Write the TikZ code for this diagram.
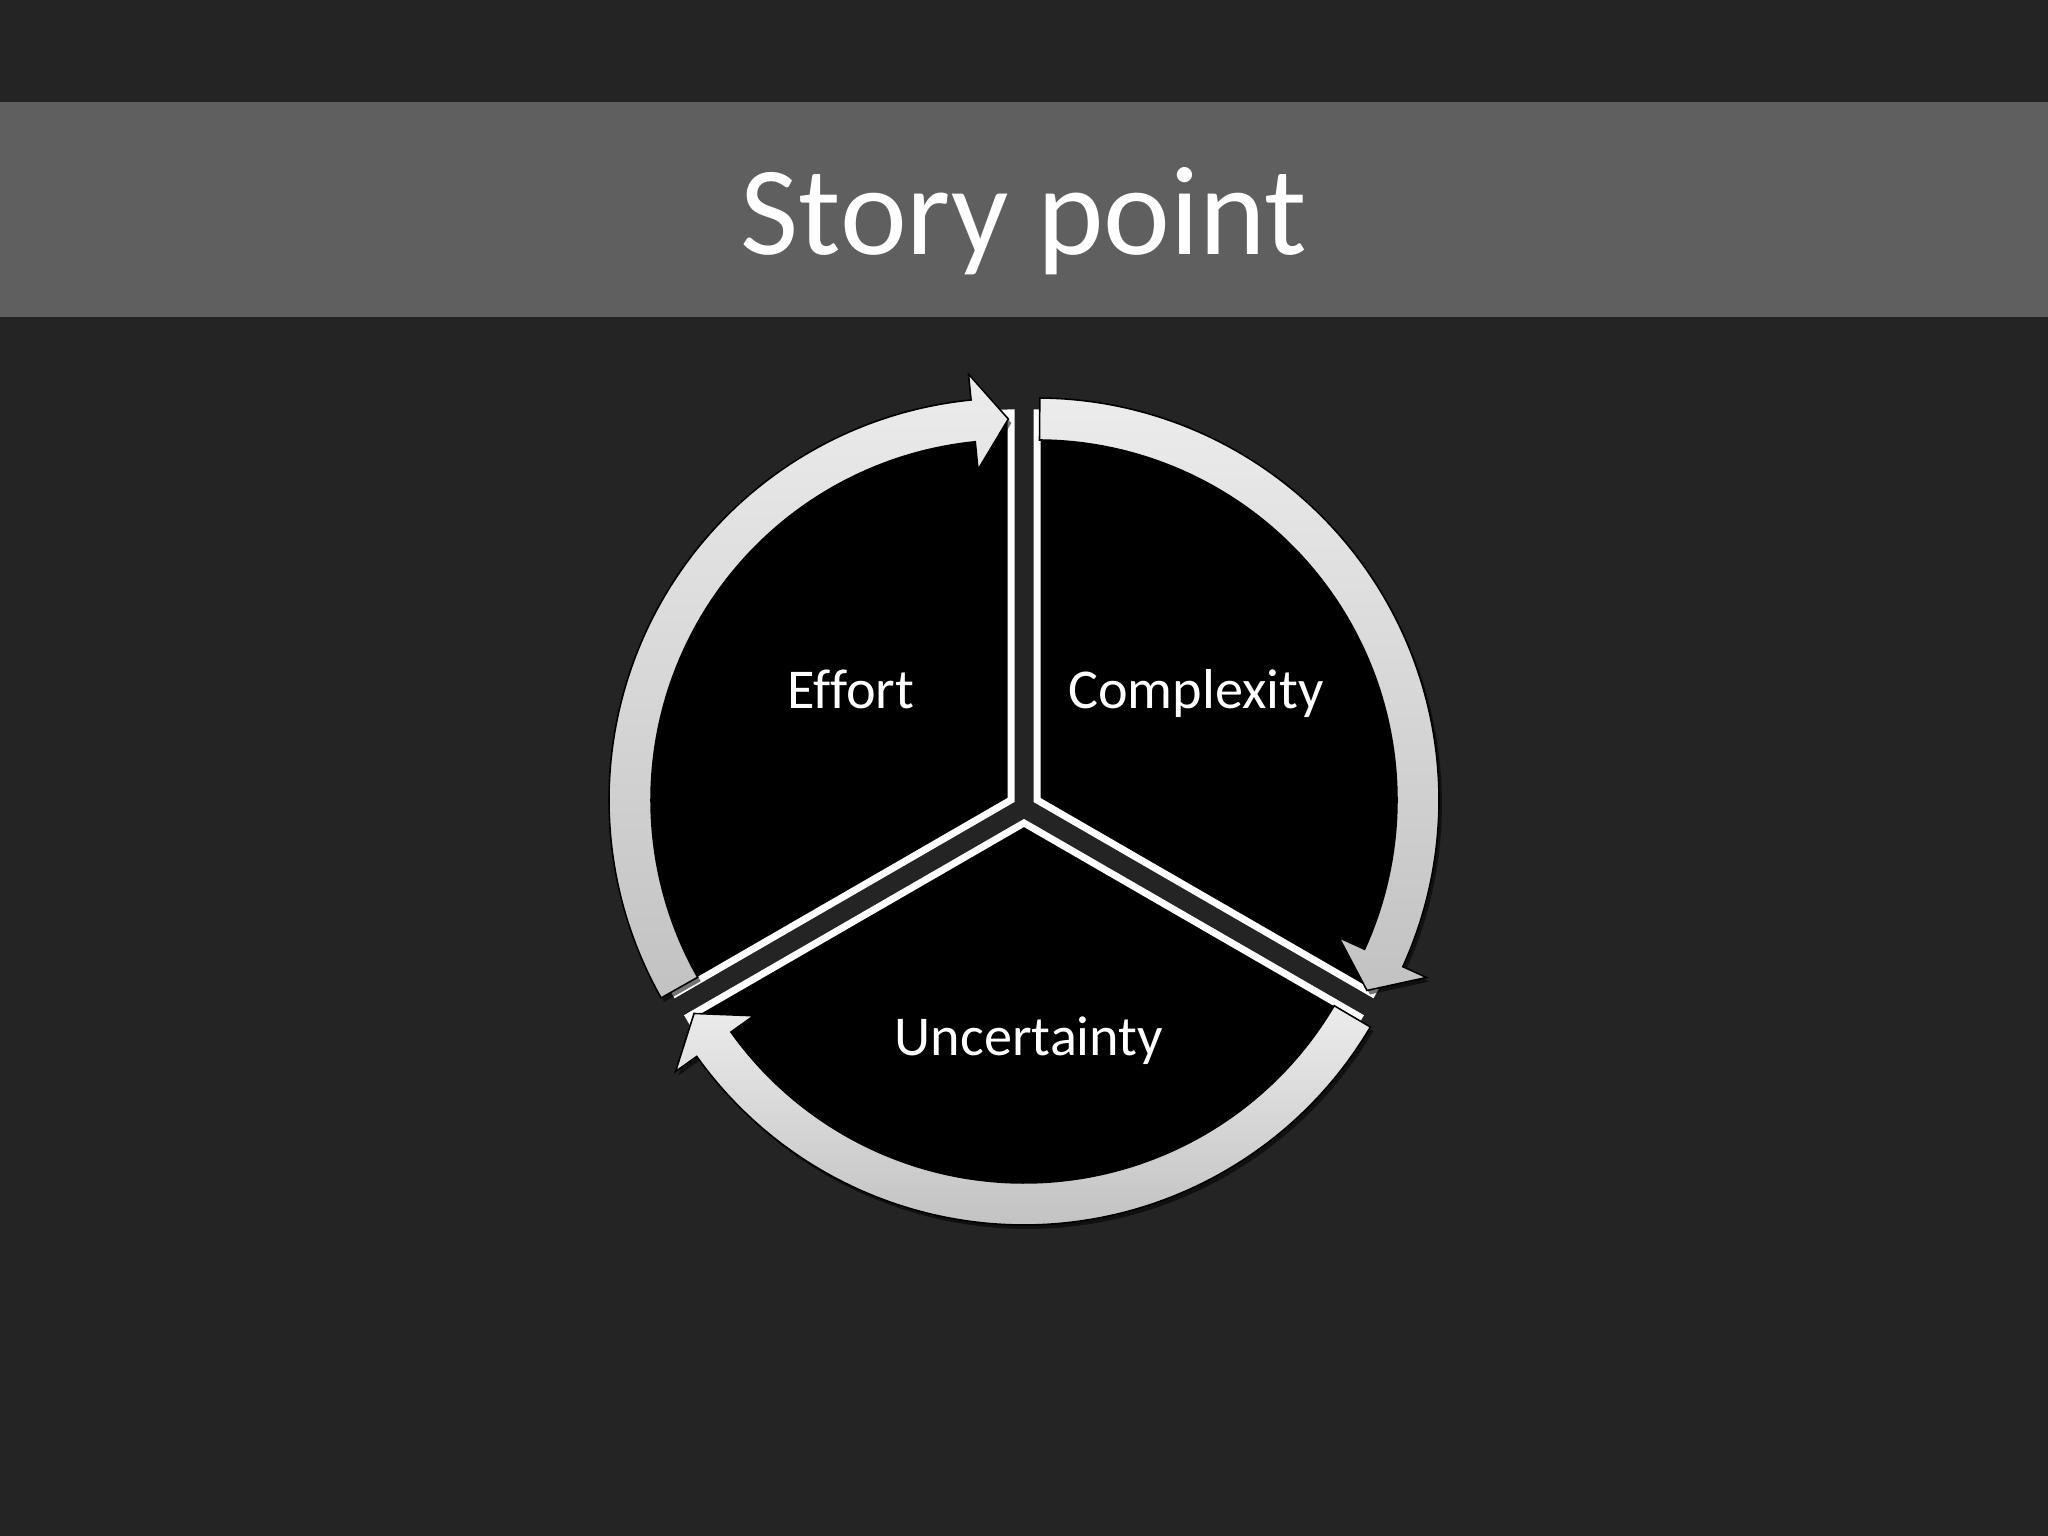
\documentclass[tikz,border=0pt]{standalone}
\usepackage{fontspec}
\setmainfont[Ligatures=NoCommon]{Carlito}
\usetikzlibrary{calc,shadows}
\definecolor{bg}{HTML}{242424}
\definecolor{band}{HTML}{5F5F5F}
\definecolor{ringtop}{HTML}{ECECEC}
\definecolor{ringbot}{HTML}{C2C2C2}
\tikzset{
  sectorshape/.style={fill=black, draw=white, line width=0.07cm, line join=miter},
  ringshape/.style={top color=ringtop, bottom color=ringbot, draw=black, line width=0.45pt,
    drop shadow={shadow xshift=0.03cm, shadow yshift=-0.04cm, opacity=0.55, fill=black}},
  segtext/.style={text=white, font=\fontsize{16}{19}\selectfont, anchor=base, inner sep=0pt},
  titletext/.style={text=white, font=\fontsize{36}{43}\selectfont, anchor=base, inner sep=0pt}
}
\newcommand\ringarrow[4]{%
  \path[ringshape] ($(#1)+(#2:4.02)$) arc[start angle=#2, end angle=#3, radius=4.02]
    -- ($(#1)+(#3:4.28)$) -- ($(#1)+(#4:3.81)$) -- ($(#1)+(#3:3.32)$)
    -- ($(#1)+(#3:3.60)$) arc[start angle=#3, end angle=#2, radius=3.60] -- cycle;}
\begin{document}
\begin{tikzpicture}
  \fill[bg] (0,0) rectangle (20.48,15.36);
  \useasboundingbox (0,0) rectangle (20.48,15.36);
  \fill[band] (0,12.19) rectangle (20.48,14.34);
  \node[titletext] (title) at (10.24,12.81) {Story point};

  \coordinate (E) at (10.11,7.36);
  \coordinate (C) at (10.37,7.36);
  \coordinate (U) at (10.24,7.13);

  \path[sectorshape] (E) -- ++(90:3.87) arc[start angle=90, end angle=210, radius=3.87] -- cycle;
  \path[sectorshape] (C) -- ++(-30:3.87) arc[start angle=-30, end angle=90, radius=3.87] -- cycle;
  \path[sectorshape] (U) -- ++(210:3.87) arc[start angle=210, end angle=330, radius=3.87] -- cycle;

  \ringarrow{E}{209.5}{95.7}{90.4}
  \ringarrow{C}{89.6}{-24.5}{-30}
  \ringarrow{U}{-30.5}{-144.5}{-150}

  \node[segtext] (effort) at (8.51,8.275) {Effort};
  \node[segtext] (complexity) at (11.96,8.275) {Complexity};
  \node[segtext] (uncertainty) at (10.29,4.80) {Uncertainty};
\end{tikzpicture}
\end{document}
